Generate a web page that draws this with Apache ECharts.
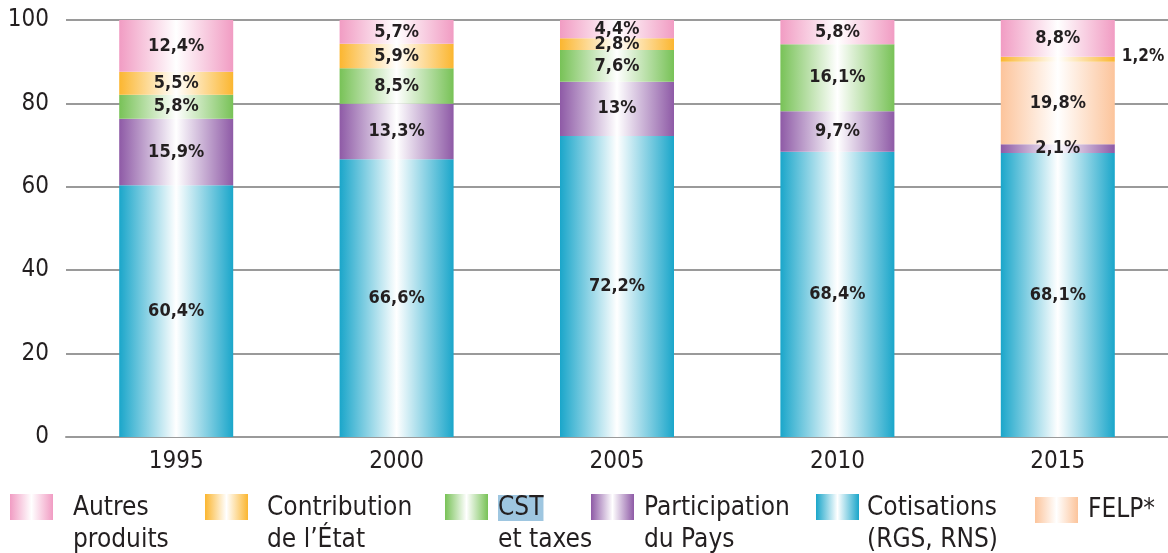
<!DOCTYPE html>
<html><head><meta charset="utf-8">
<script src="https://cdn.jsdelivr.net/npm/echarts@6/dist/echarts.min.js"></script>
<style>html,body{margin:0;padding:0;background:#fff}#c{width:1168px;height:553px}</style>
</head><body><div id="c"></div>
<script>
const years = ['1995','2000','2005','2010','2015'];
const cotisations = [60.4, 66.6, 72.2, 68.4, 68.1];
const participation = [15.9, 13.3, 13, 9.7, 2.1];
const cst = [5.8, 8.5, 7.6, 16.1, 0];
const felp = [0, 0, 0, 0, 19.8];
const contribution = [5.5, 5.9, 2.8, 0, 1.2];
const autres = [12.4, 5.7, 4.4, 5.8, 8.8];
const yTicks = [0, 20, 40, 60, 80, 100];

const FONT = '"DejaVu Sans Condensed", "DejaVu Sans", sans-serif';
const TXT = '#231f20';

function grad(c) {
  return new echarts.graphic.LinearGradient(0, 0, 1, 0, [
    {offset: 0, color: c}, {offset: 0.5, color: '#ffffff'}, {offset: 1, color: c}
  ]);
}
const seriesDefs = [
  {name: 'Cotisations\n(RGS, RNS)', data: cotisations, color: '#1aa6ca'},
  {name: 'Participation\ndu Pays', data: participation, color: '#8e5aa6'},
  {name: 'CST\net taxes', data: cst, color: '#78c257'},
  {name: 'FELP*', data: felp, color: '#fcc49b'},
  {name: 'Contribution\nde l\u2019\u00c9tat', data: contribution, color: '#fbb630'},
  {name: 'Autres\nproduits', data: autres, color: '#f19cc3'}
];
const fmt = p => p.value ? String(p.value).replace('.', ',') + '%' : '';
const series = seriesDefs.map(s => ({
  name: s.name, type: 'bar', stack: 'tot', barWidth: 114,
  itemStyle: {color: grad(s.color)},
  label: {show: true, position: 'inside', formatter: fmt, fontFamily: FONT, fontWeight: 'bold', fontSize: 18, color: TXT},
  data: s.data.map((v, i) => (s.name.startsWith('Contribution') && i === 4)
    ? {value: v, label: {position: 'right', distance: 7, offset: [0, -3], fontSize: 17}} : v)
}));

// [name, icon left, text gap]
const legendPos = [
  ['Autres\nproduits', 10, 15],
  ['Contribution\nde l\u2019\u00c9tat', 205, 14],
  ['CST\net taxes', 445, 5],
  ['Participation\ndu Pays', 591, 5],
  ['Cotisations\n(RGS, RNS)', 816, 3],
  ['FELP*', 1035, 5]
];
const LH = 32, PT = 34, IH = 26;
const legends = legendPos.map(([n, x, g]) => {
  const single = n.indexOf('\n') < 0;
  const boxTop = single ? 0 : IH / 2 - (2 * LH + PT) / 2;
  return {
    data: [n], left: x, top: 494 + boxTop, itemWidth: 43, itemHeight: IH, itemGap: 0,
    padding: 0, selectedMode: false, icon: 'rect',
    formatter: v => v === 'CST\net taxes' ? '{hl|CST}\n{n|et taxes}' : v,
    textStyle: {fontFamily: FONT, fontSize: 26, color: TXT, lineHeight: LH,
      padding: single ? [0, 0, 0, g] : [PT, 0, 0, g],
      rich: {hl: {backgroundColor: '#9ec6e0', fontFamily: FONT, fontSize: 26, color: TXT, lineHeight: LH},
             n: {fontFamily: FONT, fontSize: 26, color: TXT, lineHeight: LH}}}
  };
});

const chart = echarts.init(document.getElementById('c'), null, {renderer: 'canvas'});
chart.setOption({
  animation: false,
  textStyle: {fontFamily: FONT},
  grid: {left: 66, right: -6, top: 20, bottom: 116, containLabel: false},
  legend: legends,
  xAxis: {type: 'category', data: years,
    axisLine: {lineStyle: {color: '#9a9a9a', width: 2}}, axisTick: {show: false},
    axisLabel: {fontFamily: FONT, fontSize: 24, color: TXT, margin: 13}},
  yAxis: {type: 'value', min: yTicks[0], max: yTicks[yTicks.length - 1], interval: yTicks[1] - yTicks[0],
    axisLine: {show: false}, axisTick: {show: false},
    splitLine: {lineStyle: {color: '#9a9a9a', width: 2}},
    axisLabel: {fontFamily: FONT, fontSize: 24, color: TXT, margin: 17}},
  series
});
</script></body></html>
